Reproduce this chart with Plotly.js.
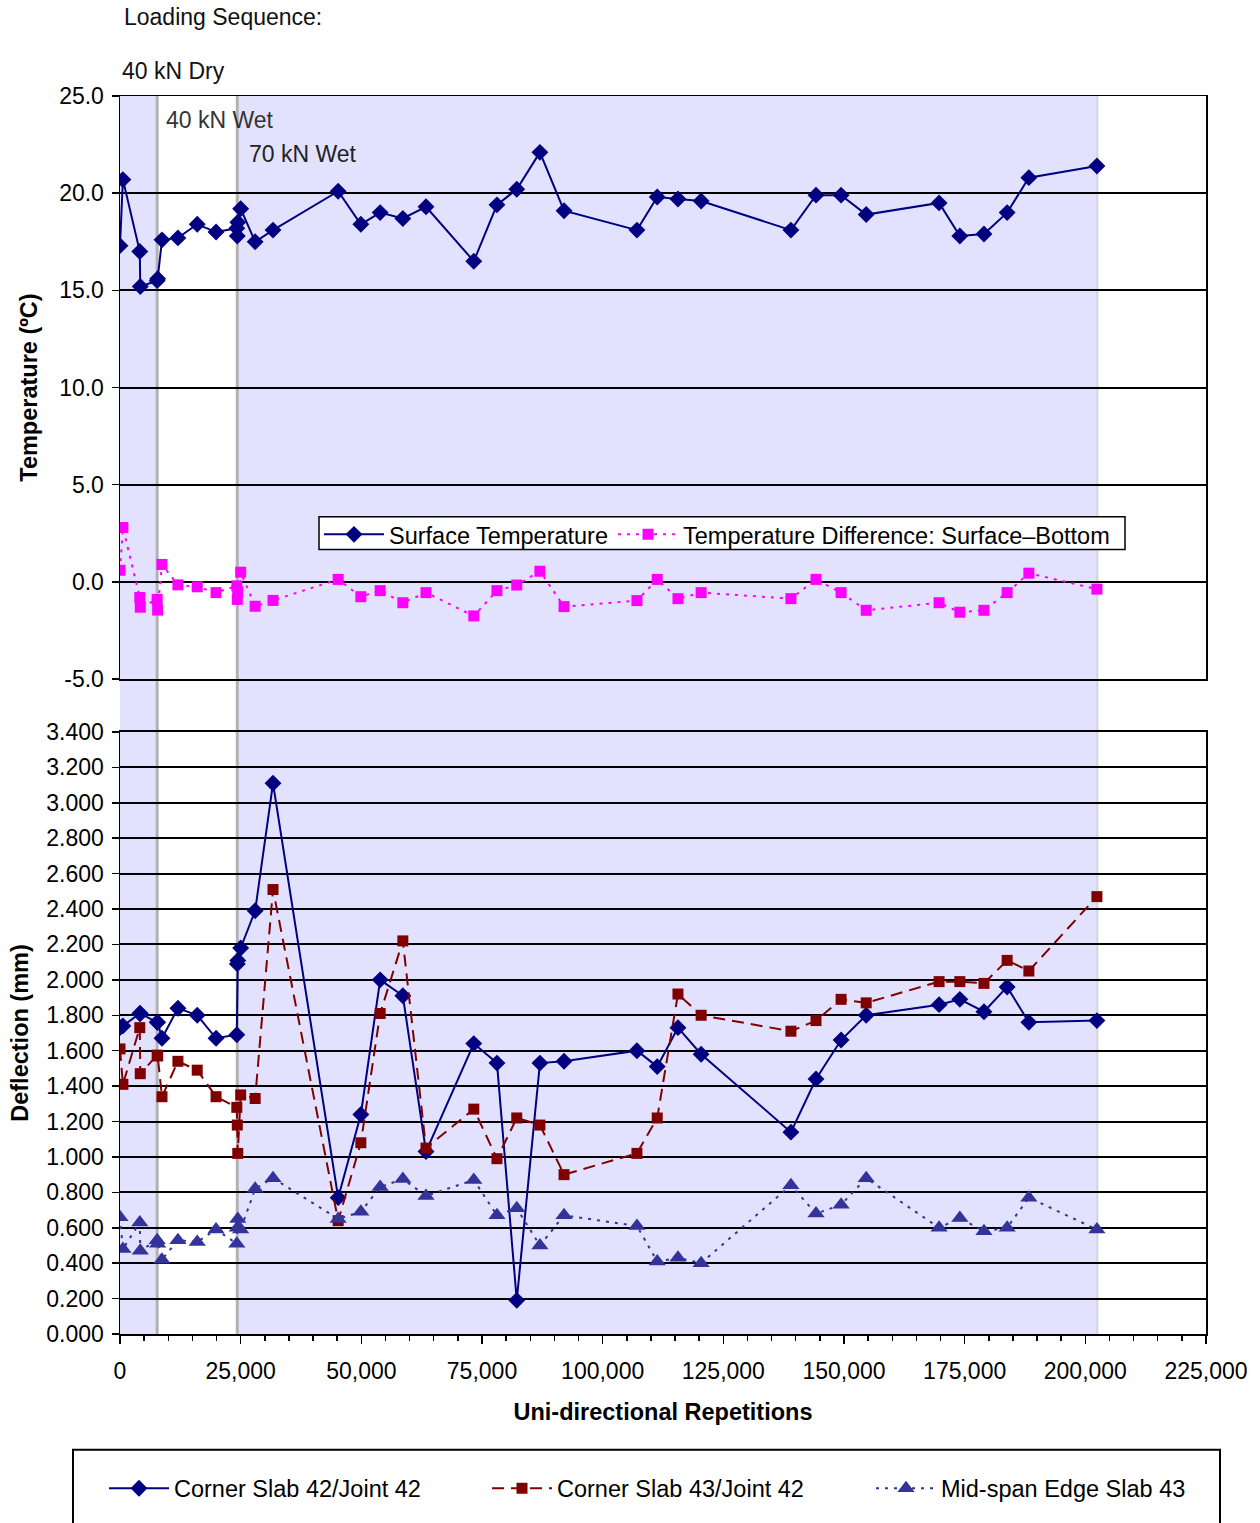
<!DOCTYPE html>
<html>
<head>
<meta charset="utf-8">
<script src="https://cdn.plot.ly/plotly-3.0.1.min.js"></script>
<style>
html,body{margin:0;padding:0;background:#fff;}
#chart{width:1260px;height:1523px;}
</style>
</head>
<body>
<div id="chart"></div>
<script>
// Uni-directional repetitions (shared by all series)
const repetitions = [0, 600, 4100, 4200, 7700, 7800, 8700, 12000, 16000, 19900,
  24200, 24300, 24400, 25000, 28000, 31700, 45200, 49900, 53900, 58600,
  63400, 73300, 78100, 82200, 87000, 92000, 107100, 111300, 115600, 120400,
  139000, 144200, 149400, 154600, 169700, 174000, 179000, 183800, 188300, 202400];

// Temperatures (ºC)
const surfaceTemperature = [17.3, 20.7, 17.0, 15.2, 15.5, 15.6, 17.6, 17.7, 18.4, 18.0,
  18.2, 17.8, 18.5, 19.2, 17.5, 18.1, 20.1, 18.4, 19.0, 18.7,
  19.3, 16.5, 19.4, 20.2, 22.1, 19.1, 18.1, 19.8, 19.7, 19.6,
  18.1, 19.9, 19.9, 18.9, 19.5, 17.8, 17.9, 19.0, 20.8, 21.4];
const temperatureDifference = [0.6, 2.8, -0.8, -1.3, -0.9, -1.45, 0.9, -0.15, -0.25, -0.55,
  -0.2, -0.9, -0.5, 0.5, -1.25, -0.95, 0.13, -0.76, -0.45, -1.07,
  -0.55, -1.75, -0.45, -0.16, 0.55, -1.27, -0.96, 0.13, -0.86, -0.55,
  -0.86, 0.13, -0.55, -1.46, -1.07, -1.56, -1.46, -0.55, 0.45, -0.37];

// Deflections (mm)
const cornerSlab42 = [1.73, 1.74, 1.81, 1.81, 1.76, 1.76, 1.67, 1.84, 1.80, 1.67,
  1.69, 2.09, 2.11, 2.18, 2.39, 3.11, 0.77, 1.24, 2.00, 1.91,
  1.03, 1.64, 1.53, 0.19, 1.53, 1.54, 1.60, 1.51, 1.73, 1.58,
  1.14, 1.44, 1.66, 1.80, 1.86, 1.89, 1.82, 1.96, 1.76, 1.77];
const cornerSlab43 = [1.61, 1.41, 1.73, 1.47, 1.575, 1.57, 1.34, 1.54, 1.49, 1.34,
  1.28, 1.18, 1.02, 1.35, 1.33, 2.51, 0.64, 1.08, 1.81, 2.22,
  1.05, 1.27, 0.99, 1.22, 1.18, 0.90, 1.02, 1.22, 1.92, 1.80,
  1.71, 1.77, 1.89, 1.87, 1.99, 1.99, 1.98, 2.11, 2.05, 2.47];
const midSpanEdge43 = [0.66, 0.48, 0.63, 0.47, 0.53, 0.51, 0.42, 0.53, 0.52, 0.59,
  0.51, 0.60, 0.65, 0.59, 0.82, 0.88, 0.65, 0.69, 0.83, 0.875,
  0.78, 0.87, 0.67, 0.71, 0.50, 0.67, 0.61, 0.41, 0.43, 0.40,
  0.84, 0.68, 0.73, 0.88, 0.60, 0.655, 0.58, 0.60, 0.77, 0.59];

// Temperature axis tick labels
const tempTickVals = [-5, 0, 5, 10, 15, 20, 25];
const tempTickText = ["-5.0", "0.0", "5.0", "10.0", "15.0", "20.0", "25.0"];

// Loading sequence boundaries (repetitions)
const phaseBounds = [0, 7700, 24300, 202500];
const phaseLabels = ["40 kN Dry", "40 kN Wet", "70 kN Wet"];

const FONT = "Liberation Sans, Arial, sans-serif";
const lav = "rgb(226,226,254)";
const TICK = 23, TITLE = 23.5, LEG = 23.5, ANN = 23;

const traces = [
  {x: repetitions, y: surfaceTemperature, name: "Surface Temperature", xaxis: "x2", yaxis: "y2",
   mode: "lines+markers", line: {color: "#000080", width: 2},
   marker: {symbol: "diamond", size: 13, color: "#000080"}, legend: "legend"},
  {x: repetitions, y: temperatureDifference, name: "Temperature Difference: Surface\u2013Bottom", xaxis: "x2", yaxis: "y2",
   mode: "lines+markers", line: {color: "#FF00FF", width: 2, dash: "3px,6px"},
   marker: {symbol: "square", size: 11, color: "#FF00FF"}, legend: "legend"},
  {x: repetitions, y: cornerSlab42, name: "Corner Slab 42/Joint 42", xaxis: "x", yaxis: "y",
   mode: "lines+markers", line: {color: "#000080", width: 2},
   marker: {symbol: "diamond", size: 13, color: "#000080"}, legend: "legend2"},
  {x: repetitions, y: cornerSlab43, name: "Corner Slab 43/Joint 42", xaxis: "x", yaxis: "y",
   mode: "lines+markers", line: {color: "#800000", width: 2, dash: "12px,7px"},
   marker: {symbol: "square", size: 11, color: "#800000"}, legend: "legend3"},
  {x: repetitions, y: midSpanEdge43, name: "Mid-span Edge Slab 43", xaxis: "x", yaxis: "y",
   mode: "lines+markers", line: {color: "#333399", width: 2, dash: "3px,6px"},
   marker: {symbol: "triangle-up", size: 15, color: "#333399"}, legend: "legend4"}
];

const pxX = p => (p - 120) / 1086;
const pxY = p => (1338 - p) / 1242;

const shapes = [
  {type: "rect", xref: "x", yref: "paper", x0: phaseBounds[0], x1: phaseBounds[1], y0: 0, y1: 1,
   fillcolor: lav, line: {width: 0}, layer: "below"},
  {type: "rect", xref: "x", yref: "paper", x0: phaseBounds[2], x1: phaseBounds[3], y0: 0, y1: 1,
   fillcolor: lav, line: {width: 0}, layer: "below"},
  {type: "line", xref: "x", yref: "paper", x0: phaseBounds[1], x1: phaseBounds[1], y0: 0, y1: 1,
   line: {color: "#B2B2B2", width: 3}, layer: "below"},
  {type: "line", xref: "x", yref: "paper", x0: phaseBounds[2], x1: phaseBounds[2], y0: 0, y1: 1,
   line: {color: "#B2B2B2", width: 3}, layer: "below"},
  {type: "line", xref: "x", yref: "paper", x0: phaseBounds[3], x1: phaseBounds[3], y0: 0, y1: 1,
   line: {color: "#D6D6D6", width: 2}, layer: "below"},
  // top legend box
  {type: "rect", xref: "paper", yref: "paper", x0: pxX(319), x1: pxX(1125), y0: pxY(551), y1: pxY(518),
   line: {color: "#000", width: 1.5}, fillcolor: "#fff", layer: "above"},
  // bottom legend box (runs past the page edge)
  {type: "rect", xref: "paper", yref: "paper", x0: pxX(73), x1: pxX(1220), y0: pxY(1454), y1: pxY(1600),
   line: {color: "#000", width: 2}, fillcolor: "rgba(0,0,0,0)", layer: "above"}
];

const annotations = [
  {text: "Loading Sequence:", xref: "paper", yref: "paper", x: pxX(122), y: pxY(17), xanchor: "left", yanchor: "middle",
   showarrow: false, font: {family: FONT, size: ANN, color: "#111"}},
  {text: phaseLabels[0], xref: "paper", yref: "paper", x: pxX(120), y: pxY(71), xanchor: "left", yanchor: "middle",
   showarrow: false, font: {family: FONT, size: ANN, color: "#111"}},
  {text: phaseLabels[1], xref: "paper", yref: "paper", x: pxX(164), y: pxY(120), xanchor: "left", yanchor: "middle",
   showarrow: false, font: {family: FONT, size: ANN, color: "#333"}},
  {text: phaseLabels[2], xref: "paper", yref: "paper", x: pxX(247), y: pxY(154), xanchor: "left", yanchor: "middle",
   showarrow: false, font: {family: FONT, size: ANN, color: "#222"}}
];

const axisCommon = {
  showline: true, linecolor: "#000", linewidth: 1.5, mirror: true,
  gridcolor: "#000", gridwidth: 2, zeroline: false,
  tickfont: {family: FONT, size: TICK, color: "#000"}
};

function legendAt(xpx, ypx) {
  return {
    orientation: "h", x: pxX(xpx), y: pxY(ypx), xanchor: "left", yanchor: "middle",
    bgcolor: "rgba(0,0,0,0)", borderwidth: 0, itemwidth: 60,
    font: {family: FONT, size: LEG, color: "#000"}
  };
}

const layout = {
  width: 1260, height: 1523,
  margin: {l: 120, r: 54, t: 96, b: 185},
  paper_bgcolor: "#fff", plot_bgcolor: "rgba(0,0,0,0)",
  font: {family: FONT, size: TICK, color: "#000"},
  xaxis: Object.assign({}, axisCommon, {
    anchor: "y", domain: [0, 1], range: [0, 225000], dtick: 25000, tick0: 0,
    tickformat: ",d", showgrid: false, ticks: "outside", ticklen: 8, tickcolor: "#000", tickwidth: 1.5,
    ticklabelstandoff: 8,
    minor: {dtick: 5000, ticks: "outside", ticklen: 5, tickcolor: "#000", tickwidth: 1.5, showgrid: false},
    title: {text: "<b>Uni-directional Repetitions</b>", font: {family: FONT, size: TITLE, color: "#000"}, standoff: 20}
  }),
  yaxis: Object.assign({}, axisCommon, {
    anchor: "x", domain: [0, 604 / 1242], range: [0, 3.4], dtick: 0.2, tick0: 0,
    tickformat: ".3f", ticks: "outside", ticklen: 7, tickcolor: "#000", tickwidth: 1.5,
    ticklabelstandoff: 3,
    title: {text: "<b>Deflection (mm)</b>", font: {family: FONT, size: TITLE, color: "#000"}, standoff: 11}
  }),
  xaxis2: Object.assign({}, axisCommon, {
    anchor: "y2", matches: "x", range: [0, 225000], showgrid: false, showticklabels: false, ticks: ""
  }),
  yaxis2: Object.assign({}, axisCommon, {
    anchor: "x2", domain: [(1338 - 681) / 1242, 1], range: [-5, 25],
    tickmode: "array", tickvals: tempTickVals, ticktext: tempTickText,
    ticks: "outside", ticklen: 7, tickcolor: "#000", tickwidth: 1.5,
    ticklabelstandoff: 3,
    title: {text: "<b>Temperature (ºC)</b>", font: {family: FONT, size: TITLE, color: "#000"}, standoff: 15}
  }),
  legend: legendAt(319, 536),
  legend2: legendAt(104, 1493),
  legend3: legendAt(487, 1493),
  legend4: legendAt(871, 1493),
  showlegend: true,
  shapes: shapes,
  annotations: annotations
};

Plotly.newPlot("chart", traces, layout, {displayModeBar: false, staticPlot: true});
</script>
</body>
</html>
